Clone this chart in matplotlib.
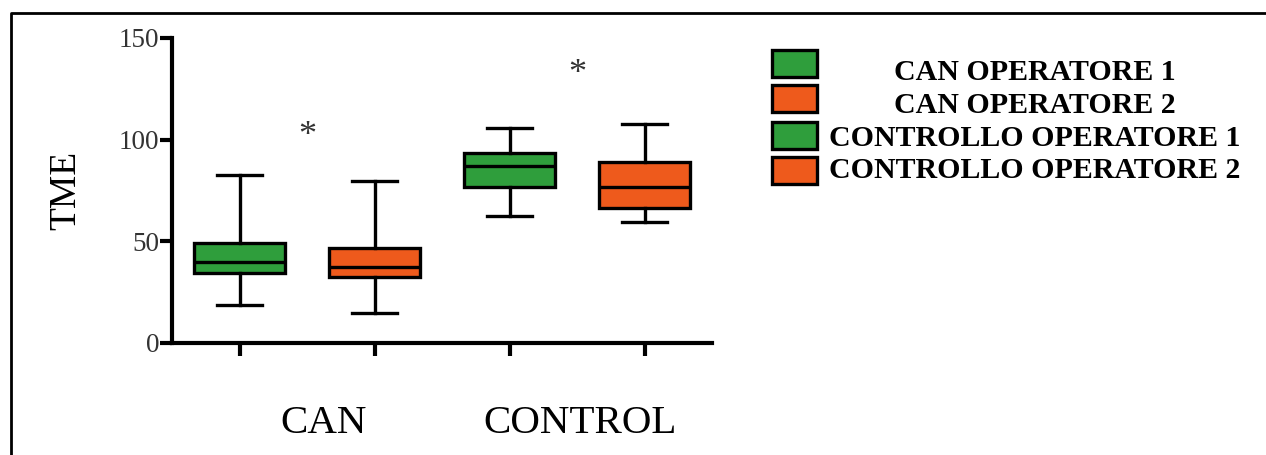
import matplotlib
matplotlib.use('Agg')
import matplotlib.pyplot as plt
from matplotlib.patches import Rectangle
from matplotlib.lines import Line2D

plt.rcParams['font.family'] = ['Liberation Serif', 'DejaVu Serif']

W, H = 1266, 455

# box statistics (whislo, q1, med, q3, whishi)
labels = ['CAN OPERATORE 1', 'CAN OPERATORE 2',
          'CONTROLLO OPERATORE 1', 'CONTROLLO OPERATORE 2']
whislo = [18.7, 14.7, 62.6, 59.6]
q1 = [34.4, 32.5, 76.8, 66.4]
med = [40.0, 37.5, 87.0, 76.8]
q3 = [49.2, 46.7, 93.3, 88.9]
whishi = [82.6, 79.7, 105.8, 107.7]
positions = [1, 2, 3, 4]
colors = ['#2f9e3c', '#ee5a1c', '#2f9e3c', '#ee5a1c']

groups = ['CAN', 'CONTROL']
group_x = [1.62, 3.52]

# significance asterisks (x, y)
star_x = [1.5, 3.5]
star_y = [101.5, 132.0]

fig = plt.figure(figsize=(W / 100, H / 100), dpi=100)
ax = fig.add_axes([172 / W, (H - 343) / H, (712 - 172) / W, 305 / H])

stats = []
for i in range(4):
    stats.append(dict(whislo=whislo[i], q1=q1[i], med=med[i], q3=q3[i],
                      whishi=whishi[i], fliers=[], label=labels[i]))

bp = ax.bxp(stats, positions=positions, widths=0.67, patch_artist=True,
            showfliers=False,
            boxprops=dict(linewidth=2.4, edgecolor='black'),
            medianprops=dict(color='black', linewidth=2.4),
            whiskerprops=dict(color='black', linewidth=2.4),
            capprops=dict(color='black', linewidth=2.4))
for patch, c in zip(bp['boxes'], colors):
    patch.set_facecolor(c)

ax.set_xlim(0.5, 4.5)
ax.set_ylim(0, 150)
ax.set_yticks([0, 50, 100, 150])
ax.set_xticks(positions)
ax.set_xticklabels([])
for s in ['top', 'right']:
    ax.spines[s].set_visible(False)
for s in ['left', 'bottom']:
    ax.spines[s].set_linewidth(3)
ax.tick_params(axis='y', length=9, width=3, labelsize=19.5, labelcolor='#333333', pad=0)
ax.tick_params(axis='x', length=9, width=3)
ax.set_ylabel('TME', fontsize=27, labelpad=26)

for x, y in zip(star_x, star_y):
    ax.text(x, y, '*', fontsize=26, ha='center', va='center', color='#333333')

for g, x in zip(groups, group_x):
    ax.text(x, -0.265, g, fontsize=29.5, ha='center', va='center',
            transform=ax.get_xaxis_transform())

# legend drawn by hand
sq_top = [50, 85, 122, 157]
txt_y = [73, 105, 138, 170]
for i in range(4):
    fig.add_artist(Rectangle((772 / W, 1 - (sq_top[i] + 27) / H), 45 / W, 27 / H,
                             transform=fig.transFigure, facecolor=colors[i],
                             edgecolor='black', linewidth=2.4))
    fig.text(1035 / W, 1 - txt_y[i] / H, labels[i], fontsize=21.5, fontweight='bold',
             ha='center', va='center')

# outer frame (left and top)
fig.add_artist(Line2D([11 / W, 11 / W, 1], [0, 1 - 13 / H, 1 - 13 / H],
                      transform=fig.transFigure, color='black', linewidth=2))

fig.savefig('out.png', dpi=100)
